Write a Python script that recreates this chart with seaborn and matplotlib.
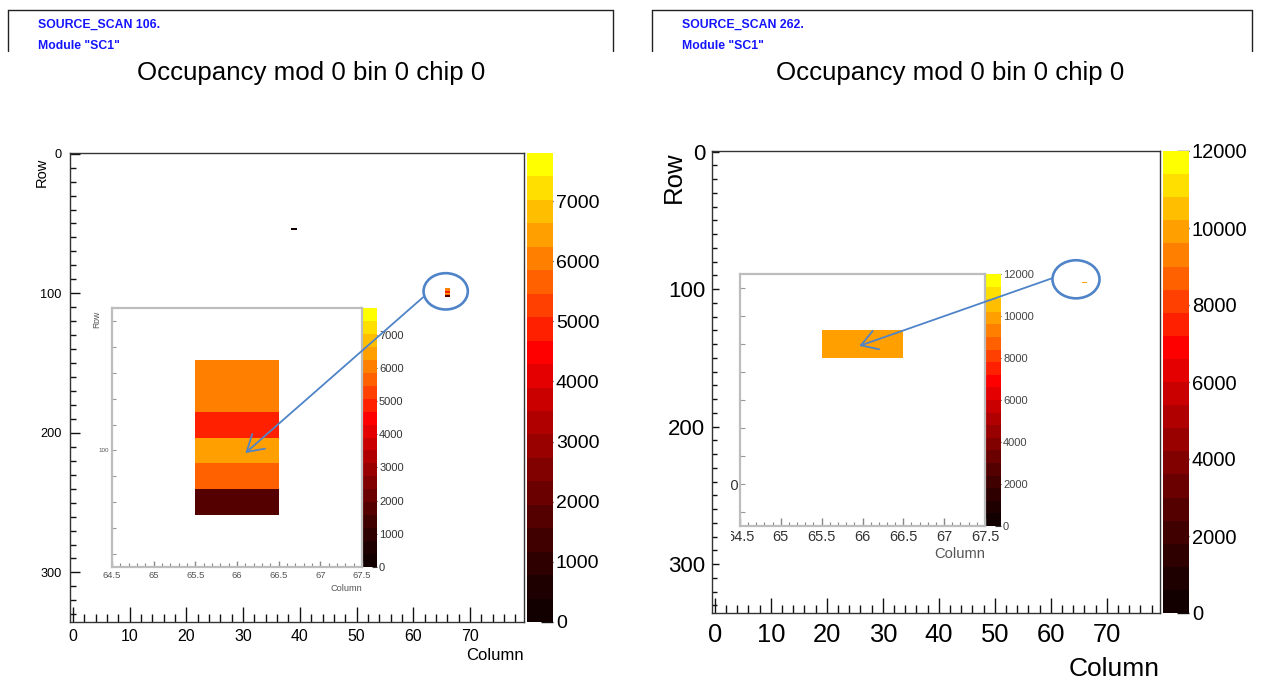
import numpy as np
import pandas as pd
import matplotlib
matplotlib.use("Agg")
import matplotlib.pyplot as plt
import seaborn as sns
from matplotlib.colors import ListedColormap
from matplotlib.patches import Ellipse, ConnectionPatch
from matplotlib.lines import Line2D
from matplotlib.transforms import Bbox, TransformedBbox

# ---------------- data ----------------
N_COLS = 80
N_ROWS = 336
PLOT_TITLE = "Occupancy mod 0 bin 0 chip 0"
MODULE_LABEL = 'Module "SC1"'
SCAN_LABELS = ["SOURCE_SCAN 106.", "SOURCE_SCAN 262."]
X_LABEL = "Column"
Y_LABEL = "Row"

left_cols = [39, 66, 66, 66, 66, 66, 66]
left_rows = [54, 97, 98, 99, 100, 101, 102]
left_vals = [200, 6100, 6100, 4900, 6450, 5650, 1750]
left_zmax = 7800
left_cbar_ticks = [0, 1000, 2000, 3000, 4000, 5000, 6000, 7000]

right_cols = [66]
right_rows = [95]
right_vals = [9900]
right_zmax = 12000
right_cbar_ticks = [0, 2000, 4000, 6000, 8000, 10000, 12000]

main_xticks = [0, 10, 20, 30, 40, 50, 60, 70]
main_yticks = [0, 100, 200, 300]
inset_xticks = [64.5, 65, 65.5, 66, 66.5, 67, 67.5]
inset_xticklabels = ["64.5", "65", "65.5", "66", "66.5", "67", "67.5"]
inset_ylabelled = [100]

# ---------------- style ----------------
sns.set_style("white")
plt.rcParams["font.family"] = ["Liberation Sans", "DejaVu Sans"]
plt.rcParams["text.color"] = "black"
plt.rcParams["axes.labelcolor"] = "black"
plt.rcParams["xtick.color"] = "black"
plt.rcParams["ytick.color"] = "black"

W, H = 1261, 680
fig = plt.figure(figsize=(W / 100, H / 100), dpi=100)
fig.patch.set_facecolor("white")


def rect(x0, y0, x1, y1):
    return [x0 / W, 1 - y1 / H, (x1 - x0) / W, (y1 - y0) / H]


def fpt(x, y):
    return (x / W, 1 - y / H)


# ROOT-like palette: 20 levels black -> red -> yellow
pal = []
for i in range(20):
    if i <= 11:
        pal.append((0.07 + 0.93 * (i / 11) ** 1.25, 0.0, 0.0))
    else:
        pal.append((1.0, (i - 11) / 8, 0.0))
cmap = ListedColormap(pal)

BLUE_ANN = "#4f84c8"


def build_matrix(cols, rows, vals):
    m = np.full((N_ROWS, N_COLS), np.nan)
    for c, r, v in zip(cols, rows, vals):
        m[r, c] = v
    return pd.DataFrame(m)


def header(x0, x1, scan_label, title_x):
    fig.add_artist(Line2D([x0 / W, x1 / W], [1 - 10 / H, 1 - 10 / H], color="#222", lw=1))
    fig.add_artist(Line2D([x0 / W, x0 / W], [1 - 10 / H, 1 - 51 / H], color="#222", lw=1))
    fig.add_artist(Line2D([x1 / W, x1 / W], [1 - 10 / H, 1 - 51 / H], color="#222", lw=1))
    fig.text(*fpt(x0 + 30, 25), scan_label, color="#1414ff", fontsize=8.8,
             fontweight="bold", ha="left", va="center")
    fig.text(*fpt(x0 + 30, 46), MODULE_LABEL, color="#1414ff", fontsize=8.8,
             fontweight="bold", ha="left", va="center")
    fig.text(*fpt(title_x, 73), PLOT_TITLE, fontsize=18.6, ha="center", va="center",
             color="black")


def main_panel(df, zmax, cticks, ax_r, cax_r, s):
    ax = fig.add_axes(rect(*ax_r))
    cax = fig.add_axes(rect(*cax_r))
    sns.heatmap(df, ax=ax, cbar_ax=cax, cmap=cmap, vmin=0, vmax=zmax,
                xticklabels=False, yticklabels=False)
    ax.set_xlim(0, N_COLS)
    ax.set_ylim(N_ROWS, 0)
    for sp in ax.spines.values():
        sp.set_visible(True)
        sp.set_color("#333")
        sp.set_linewidth(1.0)
    ax.set_xticks([c + 0.5 for c in main_xticks])
    ax.set_xticklabels([str(c) for c in main_xticks])
    ax.set_xticks(np.arange(0, N_COLS, 2) + 0.5, minor=True)
    ax.set_yticks([r + 0.5 for r in main_yticks])
    ax.set_yticklabels([str(r) for r in main_yticks])
    ax.set_yticks(np.arange(0, N_ROWS, 10) + 0.5, minor=True)
    ax.tick_params(axis="x", which="major", direction="in", length=s["xmaj"], width=1,
                   labelsize=s["xls"], pad=s["xpad"], color="#111", labelcolor="black",
                   bottom=True)
    ax.tick_params(axis="x", which="minor", direction="in", length=s["xmin"], width=1,
                   color="#111", bottom=True)
    ax.tick_params(axis="y", which="major", direction="in", length=s["ymaj"], width=1,
                   labelsize=s["yls"], pad=s["ypad"], color="#111", labelcolor="black",
                   left=True)
    ax.tick_params(axis="y", which="minor", direction="in", length=s["ymin"], width=1,
                   color="#111", left=True)
    ax.set_xlabel(X_LABEL, fontsize=s["xlab"], loc="right", color="black")
    ax.xaxis.set_label_coords(1.0, s["xlab_y"])
    ax.set_ylabel(Y_LABEL, fontsize=s["ylab"], loc="top", color="black")
    ax.yaxis.set_label_coords(s["ylab_x"], s["ylab_y"])
    cb = ax.collections[0].colorbar
    cb.outline.set_visible(False)
    cb.set_ticks(cticks)
    cb.set_ticklabels([str(t) for t in cticks])
    cax.tick_params(direction="in", length=s["ctl"], width=1, labelsize=s["cls"],
                    pad=2, color="#111", labelcolor="black")
    return ax


def inset_panel(df, zmax, cticks, ax_r, cax_r, ylim, s):
    cax = fig.add_axes(rect(*cax_r))
    ax = fig.add_axes(rect(*ax_r))
    sns.heatmap(df, ax=ax, cbar_ax=cax, cmap=cmap, vmin=0, vmax=zmax,
                xticklabels=False, yticklabels=False)
    ax.set_xlim(inset_xticks[0] + 0.5, inset_xticks[-1] + 0.5)
    ax.set_ylim(ylim[1] + 0.5, ylim[0] + 0.5)
    ax.set_facecolor("white")
    for sp in ax.spines.values():
        sp.set_visible(True)
        sp.set_color("#bdbdbd")
        sp.set_linewidth(1.6)
    ax.set_xticks([c + 0.5 for c in inset_xticks])
    ax.set_xticklabels(inset_xticklabels)
    ax.set_xticks(np.arange(inset_xticks[0], inset_xticks[-1], 0.1) + 0.5, minor=True)
    yt = np.arange(int(np.ceil(ylim[0])), int(np.floor(ylim[1])) + 1)
    ax.set_yticks(yt + 0.5)
    ax.set_yticklabels([str(v) if v in inset_ylabelled else "" for v in yt])
    ax.tick_params(axis="x", which="major", direction="in", length=s["xmaj"], width=1,
                   labelsize=s["xls"], labelcolor=s["lc"], color="#888", pad=3, bottom=True)
    ax.tick_params(axis="x", which="minor", direction="in", length=s["xmin"], width=0.8,
                   color="#888", bottom=True)
    ax.tick_params(axis="y", which="major", direction="in", length=s["ymaj"], width=0.8,
                   labelsize=s["yls"], labelcolor=s["lc"], color="#999", pad=s["ypad"],
                   left=True)
    ax.set_xlabel(X_LABEL, fontsize=s["xlab"], color="#555", loc="right")
    ax.xaxis.set_label_coords(1.0, s["xlab_y"])
    if s.get("ylab"):
        ax.set_ylabel(Y_LABEL, fontsize=s["ylab"], color="#555", loc="top")
        ax.yaxis.set_label_coords(s["ylab_x"], 0.99)
    cb = ax.collections[0].colorbar
    cb.outline.set_visible(False)
    cb.set_ticks(cticks)
    cb.set_ticklabels([str(t) for t in cticks])
    cax.tick_params(direction="in", length=s["ctl"], width=0.8, labelsize=s["cls"],
                    labelcolor=s["clc"], pad=1.5, color="#333")
    return ax


df_left = build_matrix(left_cols, left_rows, left_vals)
df_right = build_matrix(right_cols, right_rows, right_vals)

# ---------------- left canvas ----------------
header(8, 613, SCAN_LABELS[0], 311)
axL = main_panel(df_left, left_zmax, left_cbar_ticks, (70, 153, 524, 622), (527, 153, 553, 622),
                 dict(xmaj=10.5, xmin=5.8, ymaj=7, ymin=4.3, xls=11.4, yls=9.2, xpad=5, ypad=6,
                      xlab=12, xlab_y=-0.055, ylab=10.5, ylab_x=-0.046, ylab_y=0.99,
                      ctl=8.6, cls=14))
inL = inset_panel(df_left, left_zmax, left_cbar_ticks, (112, 308, 362, 567), (362, 308, 377, 567),
                  (94.5, 104.5),
                  dict(xmaj=4.6, xmin=2.6, ymaj=2.7, xls=6.8, yls=4.5, lc="#555", ypad=2,
                       xlab=6.6, xlab_y=-0.065, ylab=6.2, ylab_x=-0.045,
                       ctl=3.5, cls=8, clc="#333"))

axL.add_patch(Ellipse((66.2, 99.1), 7.8, 26.0, fill=False, edgecolor=BLUE_ANN, lw=1.9,
                      clip_on=False, zorder=5))
fig.add_artist(ConnectionPatch(xyA=(62.2, 103.4), coordsA=axL.transData,
                               xyB=(66.6, 100.6), coordsB=inL.transData,
                               arrowstyle="->,head_length=1.15,head_width=0.7",
                               mutation_scale=10, color=BLUE_ANN, lw=1.3,
                               shrinkA=0, shrinkB=0, zorder=10))

# ---------------- right canvas ----------------
header(652, 1252, SCAN_LABELS[1], 950)
axR = main_panel(df_right, right_zmax, right_cbar_ticks, (712, 151, 1160, 613), (1163, 151, 1189, 613),
                 dict(xmaj=10.5, xmin=5.8, ymaj=5, ymin=3.5, xls=18.4, yls=16, xpad=7, ypad=5,
                      xlab=19, xlab_y=-0.095, ylab=18.5, ylab_x=-0.058, ylab_y=1.0,
                      ctl=9, cls=14.5))
inR = inset_panel(df_right, right_zmax, right_cbar_ticks, (740, 274, 985, 526), (985, 274, 1001, 526),
                  (92.5, 101.5),
                  dict(xmaj=5.8, xmin=3.0, ymaj=3.6, xls=10.5, yls=10.5, lc="#333", ypad=0.5,
                       xlab=10.6, xlab_y=-0.085, ylab=None,
                       ctl=4, cls=8, clc="#444"))

# the inset is a cropped screenshot: its left-most labels are cut off
clipbox = TransformedBbox(Bbox([[730.5 / W, 0.0], [1.0, 1.0]]), fig.transFigure)
for lbl in list(inR.get_xticklabels()) + list(inR.get_yticklabels()):
    lbl.set_clip_box(clipbox)
    lbl.set_clip_on(True)

axR.add_patch(Ellipse((65.0, 93.3), 8.4, 27.7, fill=False, edgecolor=BLUE_ANN, lw=1.9,
                      clip_on=False, zorder=5))
fig.add_artist(ConnectionPatch(xyA=(60.7, 92.6), coordsA=axR.transData,
                               xyB=(66.46, 95.57), coordsB=inR.transData,
                               arrowstyle="->,head_length=1.15,head_width=0.7",
                               mutation_scale=10, color=BLUE_ANN, lw=1.3,
                               shrinkA=0, shrinkB=0, zorder=10))

fig.savefig("out.png", dpi=100, facecolor="white")
